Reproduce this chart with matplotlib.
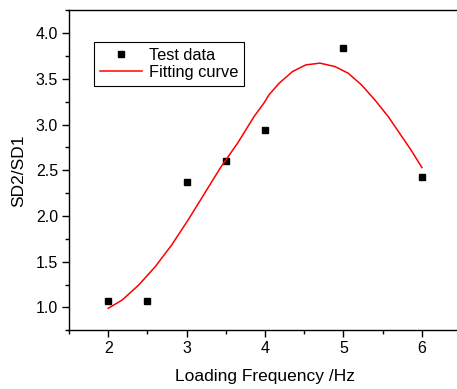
import matplotlib
matplotlib.use('Agg')
from matplotlib import pyplot as plt
from matplotlib.ticker import MultipleLocator, FormatStrFormatter

plt.rcParams['font.family'] = ['Liberation Sans', 'DejaVu Sans']

# measured points
freq = [2, 2.5, 3, 3.5, 4, 5, 6]
ratio = [1.07, 1.07, 2.37, 2.60, 2.94, 3.84, 2.43]

# fitting curve
fit_x = [2.0, 2.18, 2.39, 2.60, 2.81, 3.02, 3.23, 3.44, 3.65, 3.86, 3.99, 4.05,
         4.18, 4.35, 4.52, 4.70, 4.89, 5.06, 5.23, 5.40, 5.57, 5.73, 5.86, 6.0]
fit_y = [0.99, 1.082, 1.246, 1.446, 1.684, 1.958, 2.249, 2.540, 2.797, 3.088, 3.241, 3.325,
         3.453, 3.580, 3.653, 3.672, 3.635, 3.562, 3.434, 3.270, 3.088, 2.887, 2.723, 2.53]


def main():
    fig = plt.figure(figsize=(4.57, 3.89), dpi=100)
    ax = fig.add_axes([0.151, 0.151, 0.858, 0.8225])

    ax.plot(freq, ratio, 's', color='black', markersize=5, linestyle='none', label='Test data')
    ax.plot(fit_x, fit_y, color='red', linewidth=1.1, label='Fitting curve')

    ax.set_xlim(1.5, 6.5)
    ax.set_ylim(0.75, 4.25)
    ax.xaxis.set_major_locator(MultipleLocator(1))
    ax.xaxis.set_minor_locator(MultipleLocator(0.5))
    ax.yaxis.set_major_locator(MultipleLocator(0.5))
    ax.yaxis.set_minor_locator(MultipleLocator(0.25))
    ax.yaxis.set_major_formatter(FormatStrFormatter('%.1f'))
    ax.tick_params(which='major', direction='out', length=5, width=1, labelsize=11.5, pad=3)
    ax.tick_params(which='minor', direction='out', length=3, width=1)
    for s in ax.spines.values():
        s.set_linewidth(1)

    ax.set_xlabel('Loading Frequency /Hz', fontsize=12.5, labelpad=9)
    ax.set_ylabel('SD2/SD1', fontsize=12.5, labelpad=7)

    leg = ax.legend(loc='upper left', bbox_to_anchor=(0.064, 0.901), numpoints=1,
                    fancybox=False, framealpha=1, edgecolor='black', fontsize=11.8,
                    handlelength=2.6, borderpad=0.35, labelspacing=0.15,
                    borderaxespad=0, handletextpad=0.4)
    leg.get_frame().set_linewidth(0.8)

    plt.savefig('out.png', dpi=100)


if __name__ == '__main__':
    main()
